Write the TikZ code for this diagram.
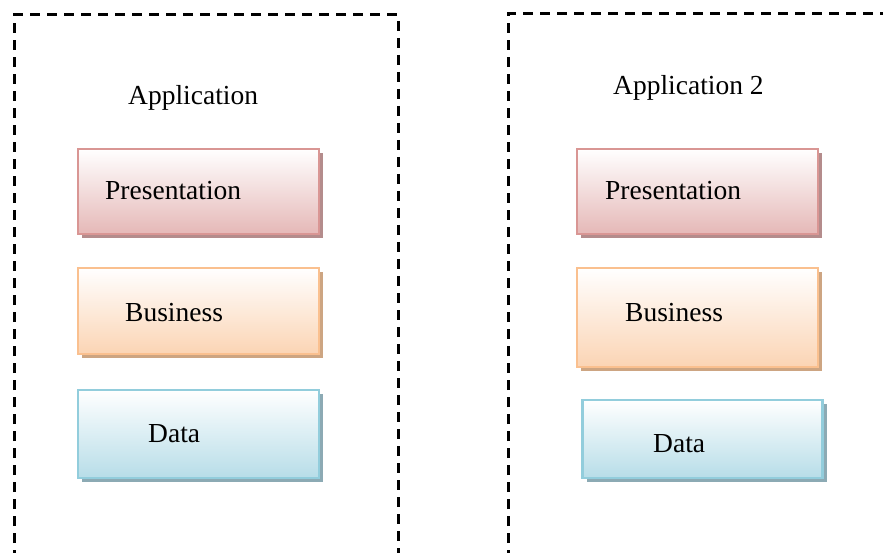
\documentclass[tikz,border=0pt]{standalone}
\usepackage{fontspec}
\setmainfont{Liberation Serif}
\usetikzlibrary{shadows}
\definecolor{presBorder}{RGB}{217,150,148}
\definecolor{presFill}{RGB}{229,184,183}
\definecolor{presShadow}{RGB}{180,140,140}
\definecolor{busBorder}{RGB}{250,192,143}
\definecolor{busFill}{RGB}{251,212,180}
\definecolor{busShadow}{RGB}{205,165,130}
\definecolor{dataBorder}{RGB}{146,205,220}
\definecolor{dataFill}{RGB}{183,221,232}
\definecolor{dataShadow}{RGB}{140,170,180}
\tikzset{
  appframe/.style={draw=black, line width=3pt, dash pattern=on 10pt off 7pt},
  layer/.style={line width=2.6pt},
  pres/.style={layer, draw=presBorder, top color=white, bottom color=presFill,
    general shadow={shadow xshift=4pt, shadow yshift=-4pt, fill=presShadow}},
  bus/.style={layer, draw=busBorder, top color=white, bottom color=busFill,
    general shadow={shadow xshift=4pt, shadow yshift=-4pt, fill=busShadow}},
  dat/.style={layer, draw=dataBorder, top color=white, bottom color=dataFill,
    general shadow={shadow xshift=4pt, shadow yshift=-4pt, fill=dataShadow}},
  lbl/.style={anchor=base west, inner sep=0pt, font=\fontsize{27.5}{30}\selectfont}
}
\begin{document}
\begin{tikzpicture}[x=1pt, y=-1pt]
  \useasboundingbox (0,0) rectangle (883,553);
  \clip (0,0) rectangle (883,553);
  % application frames
  \draw[appframe] (14,560) -- (14,15) -- (398,15) -- (398,560);
  \draw[appframe] (508,560) -- (508,14) -- (895,14);
  \node[lbl] (t1) at (128,105) {Application};
  \node[lbl] (t2) at (613,95) {Application 2};
  % first application layers
  \node[pres, minimum width=241pt, minimum height=85pt] (p1) at (198.5,191.5) {};
  \node[bus,  minimum width=241pt, minimum height=86pt] (b1) at (198.5,311) {};
  \node[dat,  minimum width=241pt, minimum height=88pt] (d1) at (198.5,434) {};
  \node[lbl] (pt1) at (105,200) {Presentation};
  \node[lbl] (bt1) at (125,321) {Business};
  \node[lbl] (dt1) at (148,442) {Data};
  % second application layers
  \node[pres, minimum width=241pt, minimum height=85pt] (p2) at (697.5,191.5) {};
  \node[bus,  minimum width=241pt, minimum height=99pt] (b2) at (697.5,317.5) {};
  \node[dat,  minimum width=240pt, minimum height=78pt] (d2) at (702.5,439) {};
  \node[lbl] (pt2) at (605,200) {Presentation};
  \node[lbl] (bt2) at (625,321) {Business};
  \node[lbl] (dt2) at (653,452) {Data};
\end{tikzpicture}
\end{document}
